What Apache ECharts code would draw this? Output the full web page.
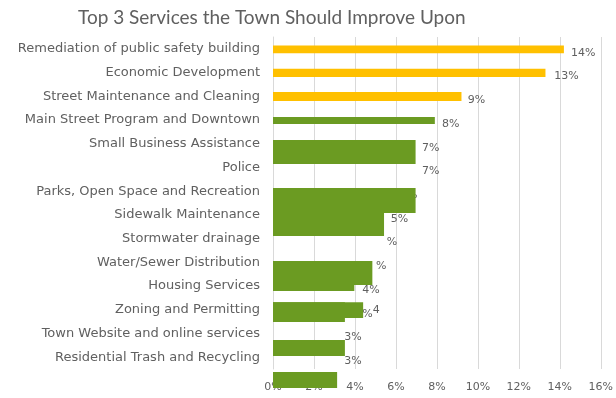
<!DOCTYPE html>
<html>
<head>
<meta charset="utf-8">
<script src="https://cdn.jsdelivr.net/npm/echarts@6/dist/echarts.min.js"></script>
<style>
  html, body { margin: 0; padding: 0; background: #fff; }
  #chart { width: 616px; height: 398px; }
</style>
</head>
<body>
<div id="chart"></div>
<script>
// category names, top to bottom
const services = [
  'Remediation of public safety building',
  'Economic Development',
  'Street Maintenance and Cleaning',
  'Main Street Program and Downtown',
  'Small Business Assistance',
  'Police',
  'Parks, Open Space and Recreation',
  'Sidewalk Maintenance',
  'Stormwater drainage',
  'Water/Sewer Distribution',
  'Housing Services',
  'Zoning and Permitting',
  'Town Website and online services',
  'Residential Trash and Recycling'
]

// value labels as they show, and the % where each one sits
const labelText = ['14%', '13%', '9%', '8%', '7%', '7%', '7%', '5%', '%', '%', '4%', '%{s|4}', '3%', '3%']
const labelAt = [14.3, 13.48, 9.26, 8.0, 7.03, 7.03, 5.95, 5.5, 5.31, 4.78, 4.11, 4.11, 3.24, 3.24]

// bars as drawn: share (%), top and bottom in category rows
const barValue = [14.2, 13.3, 9.2, 7.9, 6.96, 6.96, 5.42, 3.97, 4.85, 3.51, 4.4, 3.51, 3.13]
const barTop =   [0.36, 1.34, 2.32, 3.37, 4.34, 6.37, 7.42, 9.45, 9.45, 11.18, 11.18, 12.78, 14.13]
const barEnd =   [0.68, 1.69, 2.70, 3.67, 5.36, 7.42, 8.39, 10.71, 10.46, 12.02, 11.85, 13.45, 14.80]
const barColor = ['#ffc000', '#ffc000', '#ffc000', '#6b9b22', '#6b9b22', '#6b9b22', '#6b9b22',
  '#6b9b22', '#6b9b22', '#6b9b22', '#6b9b22', '#6b9b22', '#6b9b22']

const gray = '#606060'
const chart = echarts.init(document.getElementById('chart'))

chart.setOption({
  animation: false,
  title: {
    text: 'Top 3 Services the Town Should Improve Upon',
    left: 73,
    top: 3,
    textStyle: { fontFamily: 'Lato', fontSize: 19, fontWeight: 'normal', color: gray }
  },
  grid: { left: 273, right: 13, top: 37, bottom: 29 },
  xAxis: {
    type: 'value',
    min: 0,
    max: 16,
    interval: 2,
    axisLine: { show: false },
    axisTick: { show: false },
    axisLabel: { formatter: '{value}%', color: gray, fontSize: 11, fontFamily: 'DejaVu Sans', margin: 13 },
    splitLine: { lineStyle: { color: '#d9d9d9' } }
  },
  yAxis: [
    {
      type: 'category',
      data: services,
      inverse: true,
      axisLine: { lineStyle: { color: '#d9d9d9' } },
      axisTick: { show: false },
      axisLabel: { color: gray, fontSize: 13, fontFamily: 'DejaVu Sans', margin: 13 }
    },
    { type: 'value', min: 0, max: 14, inverse: true, show: false }
  ],
  series: [
    {
      type: 'bar',
      data: labelAt,
      itemStyle: { color: 'transparent' },
      barWidth: 2,
      z: 1,
      label: {
        show: true,
        position: 'right',
        distance: 5,
        offset: [0, 4],
        color: gray,
        fontSize: 11,
        fontFamily: 'DejaVu Sans',
        formatter: (p) => labelText[p.dataIndex],
        rich: { s: { color: gray, fontSize: 11, fontFamily: 'DejaVu Sans', padding: [0, 0, 8, 0] } }
      }
    },
    {
      type: 'custom',
      yAxisIndex: 1,
      z: 5,
      clip: false,
      data: barValue.map((v, i) => [v, barTop[i], barEnd[i]]),
      renderItem: (params, api) => {
        const a = api.coord([0, api.value(1)])
        const b = api.coord([api.value(0), api.value(2)])
        return {
          type: 'rect',
          shape: { x: a[0], y: a[1], width: b[0] - a[0], height: b[1] - a[1] },
          style: { fill: barColor[params.dataIndex] }
        }
      }
    }
  ]
})
</script>
</body>
</html>
